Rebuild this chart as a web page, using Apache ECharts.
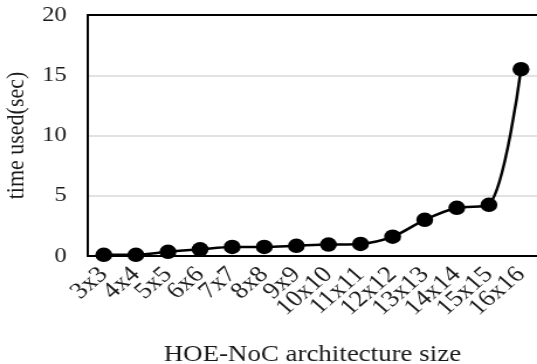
<!DOCTYPE html>
<html>
<head>
<meta charset="utf-8">
<script src="https://cdn.jsdelivr.net/npm/echarts@6/dist/echarts.min.js"></script>
<style>
  html, body { margin: 0; padding: 0; background: #fff; overflow: hidden; }
  /* the source picture is a bit stretched sideways, so draw narrow and widen */
  #chart { width: 459px; height: 364px; transform: scaleX(1.17); transform-origin: 0 0; }
</style>
</head>
<body>
<div id="chart"></div>
<script>
const sizes = ["3x3", "4x4", "5x5", "6x6", "7x7", "8x8", "9x9", "10x10", "11x11", "12x12", "13x13", "14x14", "15x15", "16x16"];
const timeUsed = [0.1, 0.1, 0.35, 0.55, 0.75, 0.75, 0.85, 0.95, 1.0, 1.6, 3.0, 4.0, 4.25, 15.5];
const yTicks = [0, 5, 10, 15, 20];

const font = "'Liberation Serif', 'Times New Roman', serif";

const chart = echarts.init(document.getElementById("chart"));

chart.setOption({
  animation: false,
  grid: { left: 75, top: 15, right: 0, bottom: 108, outerBoundsMode: "none" },
  xAxis: [
    {
      type: "category",
      data: sizes,
      boundaryGap: true,
      name: "HOE-NoC architecture size",
      nameLocation: "middle",
      nameGap: 87,
      nameTextStyle: { fontFamily: font, fontSize: 23, color: "#1a1a1a" },
      axisLine: { lineStyle: { color: "#000", width: 2 } },
      axisTick: { show: false },
      axisLabel: {
        interval: 0,
        rotate: 45,
        margin: 15,
        fontFamily: font,
        fontSize: 23,
        color: "#1a1a1a"
      }
    },
    {
      // top frame line
      type: "category",
      data: sizes,
      position: "top",
      axisLine: { lineStyle: { color: "#000", width: 2 } },
      axisTick: { show: false },
      axisLabel: { show: false }
    }
  ],
  yAxis: {
    type: "value",
    min: yTicks[0],
    max: yTicks[yTicks.length - 1],
    interval: 5,
    name: "time used(sec)",
    nameLocation: "middle",
    nameRotate: 90,
    nameGap: 45,
    nameTextStyle: { fontFamily: font, fontSize: 22, color: "#1a1a1a" },
    axisLine: { show: true, lineStyle: { color: "#000", width: 2 } },
    axisTick: { show: false },
    axisLabel: { margin: 18, fontFamily: font, fontSize: 21, color: "#1a1a1a" },
    splitLine: { lineStyle: { color: "#d9d9d9", width: 1.5 } }
  },
  series: [
    {
      type: "line",
      data: timeUsed,
      smooth: 0.3,
      symbol: "circle",
      symbolSize: 14.5,
      itemStyle: { color: "#000" },
      lineStyle: { color: "#000", width: 2.5 }
    }
  ]
});
</script>
</body>
</html>
